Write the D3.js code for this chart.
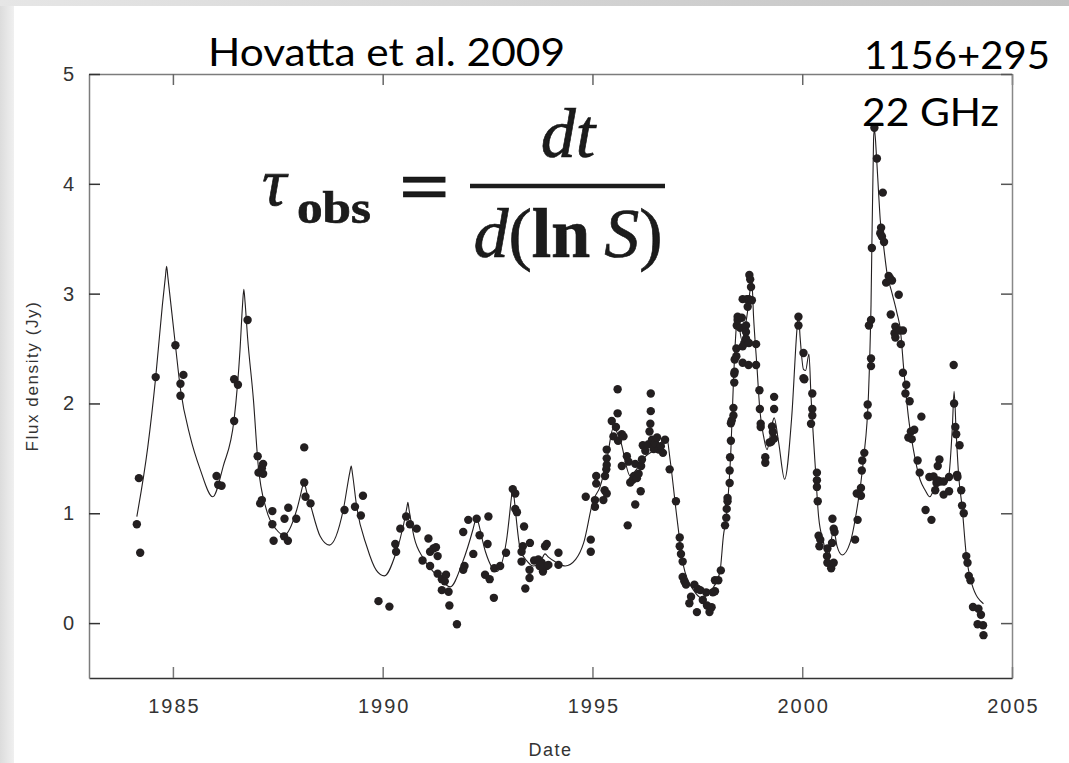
<!DOCTYPE html>
<html><head><meta charset="utf-8">
<script src="https://cdn.jsdelivr.net/npm/d3@7"></script>
<style>html,body{margin:0;padding:0;background:#fff;} svg{display:block;}</style>
</head><body>
<svg id="chart" width="1069" height="763"></svg>
<script>
// ---------- data ----------
const xTicks = [1985, 1990, 1995, 2000, 2005];
const yTicks = [0, 1, 2, 3, 4, 5];
const titleText = "Hovatta et al. 2009";
const sourceName = "1156+295";
const frequency = "22 GHz";
const xLabel = "Date";
const yLabel = "Flux density (Jy)";

// observed flux densities [year, Jy]
const observations = [
 [1984.14,0.90],[1984.22,0.64],[1984.19,1.32],[1984.59,2.24],[1985.06,2.53],[1985.18,2.18],[1985.18,2.07],[1985.25,2.26],
 [1986.04,1.34],[1986.08,1.26],[1986.16,1.25],[1986.46,2.22],[1986.55,2.17],[1986.46,1.84],[1986.78,2.76],
 [1987.02,1.52],[1987.04,1.37],[1987.12,1.41],[1987.15,1.45],[1987.15,1.36],[1987.12,1.12],[1987.08,1.09],
 [1987.37,1.02],[1987.37,0.90],[1987.40,0.75],[1987.65,0.79],[1987.66,0.95],[1987.74,0.75],[1987.75,1.05],[1987.94,0.95],
 [1988.13,1.60],[1988.13,1.28],[1988.16,1.15],[1988.28,1.09],
 [1989.09,1.03],[1989.34,1.06],[1989.48,0.98],[1989.53,1.16],[1989.90,0.20],[1990.16,0.15],
 [1990.30,0.72],[1990.32,0.65],[1990.42,0.86],[1990.56,0.97],[1990.65,0.90],[1990.81,0.86],[1990.95,0.57],[1991.09,0.77],
 [1991.13,0.65],[1991.13,0.52],[1991.21,0.68],[1991.27,0.69],[1991.31,0.61],[1991.31,0.45],[1991.41,0.40],[1991.51,0.44],
 [1991.41,0.30],[1991.57,0.285],[1991.59,0.16],[1991.77,-0.01],[1991.48,0.38],
 [1991.92,0.83],[1991.95,0.52],[1991.92,0.485],[1992.04,0.94],[1992.16,0.63],[1992.24,0.95],[1992.31,0.80],[1992.50,0.72],
 [1992.52,0.97],[1992.44,0.44],[1992.55,0.40],[1992.65,0.23],[1992.66,0.50],[1992.80,0.52],[1992.94,0.64],
 [1993.10,1.22],[1993.16,1.18],[1993.16,1.04],[1993.20,1.01],[1993.37,0.88],[1993.34,0.70],[1993.31,0.65],[1993.31,0.56],
 [1993.51,0.73],[1993.50,0.485],[1993.50,0.41],[1993.40,0.315],[1993.61,0.57],[1993.71,0.58],[1993.79,0.55],[1993.82,0.47],
 [1993.87,0.70],[1993.91,0.52],[1993.95,0.53],[1993.91,0.72],[1993.74,0.52],[1994.19,0.64],[1994.19,0.53],
 [1994.96,0.76],[1994.96,0.65],[1994.84,1.15],[1995.06,1.12],[1995.06,1.06],[1995.09,1.27],[1995.09,1.34],[1995.26,1.12],
 [1995.29,1.21],[1995.34,1.18],[1995.30,1.34],[1995.33,1.40],[1995.34,1.44],[1995.34,1.50],[1995.34,1.58],[1995.46,1.84],
 [1995.50,1.70],[1995.56,1.785],[1995.60,1.91],[1995.60,2.13],[1995.61,1.66],[1995.70,1.72],[1995.74,1.70],[1995.70,1.43],
 [1995.82,1.52],[1995.84,0.89],[1995.86,1.47],[1995.90,1.28],[1995.96,1.305],[1996.02,1.45],[1995.99,1.34],[1996.02,1.08],
 [1996.06,1.32],[1996.10,1.36],[1996.15,1.20],[1996.16,1.43],[1996.18,1.49],[1996.20,1.62],[1996.26,1.57],[1996.34,1.63],
 [1996.36,1.745],[1996.38,1.815],[1996.39,1.93],[1996.39,2.09],[1996.42,1.67],[1996.46,1.585],[1996.49,1.64],[1996.54,1.69],
 [1996.58,1.58],[1996.63,1.61],[1996.68,1.55],[1996.73,1.67],[1996.84,1.40],[1996.99,1.11],[1997.08,0.78],[1997.08,0.70],
 [1997.11,0.63],[1997.15,0.56],[1997.15,0.42],[1997.19,0.38],[1997.23,0.35],[1997.31,0.18],[1997.35,0.24],[1997.43,0.35],
 [1997.51,0.31],[1997.49,0.10],
 [1997.57,0.30],[1997.63,0.21],[1997.71,0.28],[1997.73,0.16],[1997.79,0.10],[1997.84,0.145],[1997.87,0.28],[1997.92,0.29],
 [1997.92,0.39],[1998.00,0.39],[1998.06,0.48],[1998.16,0.89],[1998.19,0.96],[1998.20,1.04],[1998.22,1.11],[1998.22,1.14],
 [1998.27,1.275],[1998.27,1.39],[1998.28,1.51],[1998.30,1.66],[1998.30,1.82],[1998.32,1.845],[1998.36,1.89],[1998.36,1.96],
 [1998.38,2.19],[1998.38,2.27],[1998.39,2.29],[1998.39,2.40],[1998.43,2.43],[1998.43,2.50],[1998.44,2.71],[1998.46,2.76],
 [1998.46,2.79],[1998.52,2.69],[1998.56,2.78],[1998.58,2.37],[1998.58,2.52],[1998.58,2.95],[1998.62,2.55],[1998.66,2.59],
 [1998.66,2.71],[1998.66,2.65],[1998.70,2.88],[1998.68,2.95],[1998.73,2.95],[1998.72,2.35],[1998.73,2.55],[1998.74,3.17],
 [1998.76,3.13],[1998.78,3.06],[1998.80,2.94],[1998.90,2.54],[1998.90,2.35],[1998.98,2.12],[1998.99,1.95],[1999.01,1.815],
 [1999.01,1.785],[1999.12,1.51],[1999.12,1.46],[1999.22,1.645],[1999.26,1.65],[1999.30,1.74],[1999.28,1.79],[1999.33,1.95],
 [1999.33,2.06],[1999.33,1.68],
 [1999.91,2.79],[1999.91,2.71],[2000.03,2.46],[2000.03,2.23],[2000.05,2.22],[2000.24,2.09],[2000.24,1.95],[2000.24,1.89],
 [2000.21,1.815],[2000.35,1.37],[2000.35,1.30],[2000.35,1.24],[2000.37,1.11],[2000.39,0.795],[2000.43,0.76],[2000.41,0.70],
 [2000.59,0.61],[2000.60,0.68],[2000.60,0.55],[2000.69,0.50],[2000.71,0.73],[2000.75,0.55],[2000.72,0.95],[2000.75,0.86],
 [2000.77,0.83],
 [2001.26,0.76],[2001.32,0.94],[2001.30,1.18],[2001.40,1.16],[2001.40,1.23],[2001.42,1.39],[2001.43,1.48],[2001.48,1.55],
 [2001.56,1.89],[2001.56,1.99],[2001.64,2.34],[2001.64,2.41],[2001.59,2.71],[2001.64,2.76],[2001.66,3.415],[2001.72,4.51],
 [2001.78,4.23],[2001.92,3.92],[2001.88,3.60],[2001.86,3.55],[2001.90,3.52],[2001.95,3.47],[2002.06,3.16],[2002.14,3.12],
 [2002.00,3.10],[2002.09,3.14],[2002.30,2.99],[2002.11,2.81],[2002.22,2.70],[2002.20,2.64],[2002.22,2.60],[2002.32,2.665],
 [2002.40,2.665],[2002.35,2.54],[2002.40,2.28],[2002.48,2.17],[2002.46,2.09],[2002.56,2.02],[2002.84,1.88],[2002.59,1.745],
 [2002.67,1.76],[2002.53,1.69],[2002.61,1.675],[2002.75,1.48],[2002.80,1.37],[2002.94,1.03],[2003.08,0.94],[2003.03,1.33],
 [2003.13,1.335],[2003.17,1.21],[2003.20,1.275],[2003.23,1.43],[2003.27,1.49],[2003.23,1.30],[2003.29,1.29],[2003.37,1.29],
 [2003.37,1.17],[2003.50,1.20],[2003.50,1.33],[2003.61,2.35],[2003.62,2.00],[2003.65,1.785],[2003.67,1.72],[2003.75,1.62],
 [2003.69,1.35],[2003.70,1.33],[2003.79,1.21],[2003.81,1.07],[2003.85,1.00],[2003.91,0.61],[2003.94,0.55],[2003.97,0.43],
 [2004.01,0.39],[2004.07,0.146],[2004.20,0.13],[2004.26,0.076],[2004.18,-0.01],[2004.31,-0.02],[2004.32,-0.11]
];

// fitted flare model curve [year, Jy]
const modelCurve = [
 [1984.14,0.97],[1984.40,1.60],[1984.59,2.24],[1984.75,2.90],[1984.82,3.15],[1984.85,3.25],[1984.88,3.15],[1985.06,2.53],
 [1985.18,2.13],[1985.41,1.70],[1985.65,1.40],[1985.95,1.15],[1986.20,1.43],[1986.46,1.86],[1986.60,2.49],[1986.66,2.90],
 [1986.69,3.04],[1986.72,2.92],[1986.78,2.60],[1986.92,2.03],[1987.03,1.45],[1987.23,1.03],[1987.47,0.85],[1987.65,0.80],
 [1987.95,1.03],[1988.10,1.26],[1988.13,1.305],[1988.16,1.24],[1988.27,1.09],[1988.51,0.79],[1988.73,0.71],[1989.06,1.03],
 [1989.22,1.38],[1989.25,1.43],[1989.28,1.36],[1989.38,1.06],[1989.62,0.70],[1989.85,0.48],[1990.04,0.43],[1990.30,0.62],
 [1990.50,0.90],[1990.58,1.06],[1990.60,1.10],[1990.63,1.03],[1990.75,0.78],[1990.97,0.59],[1991.30,0.43],[1991.61,0.33],
 [1991.90,0.55],[1992.15,0.85],[1992.22,0.95],[1992.24,0.97],[1992.27,0.93],[1992.45,0.65],[1992.72,0.47],[1992.95,0.75],
 [1993.07,1.15],[1993.10,1.25],[1993.13,1.15],[1993.28,0.67],[1993.45,0.56],[1993.59,0.52],[1993.75,0.55],[1993.87,0.63],
 [1993.95,0.60],[1994.15,0.55],[1994.35,0.52],[1994.60,0.58],[1994.79,0.73],[1995.02,1.12],[1995.18,1.24],[1995.34,1.48],
 [1995.50,1.78],[1995.66,1.67],[1995.90,1.34],[1996.05,1.40],[1996.27,1.52],[1996.50,1.58],[1996.77,1.69],[1996.85,1.49],
 [1997.01,0.97],[1997.17,0.52],[1997.41,0.30],[1997.60,0.23],[1997.89,0.33],[1998.04,0.47],[1998.12,0.79],[1998.20,1.00],
 [1998.30,1.58],[1998.36,2.19],[1998.43,2.70],[1998.46,2.77],[1998.56,2.58],[1998.68,2.79],[1998.78,3.08],[1998.80,3.10],
 [1998.84,2.79],[1998.92,2.34],[1998.99,1.94],[1999.08,1.70],[1999.16,1.58],[1999.30,1.84],[1999.33,1.87],[1999.44,1.64],
 [1999.58,1.31],[1999.75,1.88],[1999.88,2.70],[1999.91,2.81],[1999.95,2.60],[2000.03,2.31],[2000.08,2.30],[2000.16,2.45],
 [2000.21,2.06],[2000.31,1.43],[2000.39,0.97],[2000.51,0.73],[2000.61,0.59],[2000.75,0.85],[2000.83,0.70],[2000.95,0.62],
 [2001.14,0.73],[2001.30,1.03],[2001.46,1.49],[2001.58,2.09],[2001.64,2.90],[2001.70,4.40],[2001.72,4.50],[2001.77,4.25],
 [2001.82,3.92],[2001.86,3.67],[2001.94,3.43],[2002.02,3.19],[2002.14,3.005],[2002.26,2.82],[2002.34,2.67],[2002.42,2.31],
 [2002.53,1.88],[2002.65,1.58],[2002.81,1.305],[2002.93,1.21],[2003.04,1.15],[2003.21,1.29],[2003.30,1.32],[2003.40,1.26],
 [2003.49,1.33],[2003.58,1.80],[2003.62,2.11],[2003.67,1.73],[2003.73,1.335],[2003.81,1.06],[2003.91,0.62],[2004.04,0.36],
 [2004.32,0.176]
];

// ---------- drawing ----------
const W = 1069, H = 763;
const svg = d3.select("#chart");
const defs = svg.append("defs");
const gTop = defs.append("linearGradient").attr("id","gTop").attr("x1",0).attr("x2",1).attr("y1",0).attr("y2",0);
gTop.append("stop").attr("offset","0%").attr("stop-color","#e6e6e6");
gTop.append("stop").attr("offset","100%").attr("stop-color","#c2c2c2");
const gLeft = defs.append("linearGradient").attr("id","gLeft").attr("x1",0).attr("x2",1).attr("y1",0).attr("y2",0);
gLeft.append("stop").attr("offset","0%").attr("stop-color","#dcdcdc");
gLeft.append("stop").attr("offset","100%").attr("stop-color","#f0f0f0");
defs.append("filter").attr("id","soft").append("feGaussianBlur").attr("stdDeviation",0.6);

svg.append("rect").attr("width",W).attr("height",H).attr("fill","#fff");
svg.append("rect").attr("x",0).attr("y",0).attr("width",W).attr("height",6).attr("fill","url(#gTop)");
svg.append("rect").attr("x",0).attr("y",6).attr("width",14).attr("height",H-6).attr("fill","url(#gLeft)");

const L = 89, R = 1012, T = 74, B = 678;
const x = d3.scaleLinear().domain([1983, 2005]).range([L, R]);
const y = d3.scaleLinear().domain([-0.5, 5]).range([B, T]);

const tickFont = "'Liberation Sans', Arial, sans-serif";

function styleAxis(g, domainColor, tickColor) {
  g.attr("font-family", tickFont).attr("font-size", 20);
  g.select(".domain").attr("stroke", domainColor).attr("stroke-width", 1.5);
  g.selectAll(".tick line").attr("stroke", tickColor).attr("stroke-width", 1.5);
  g.selectAll(".tick text").attr("fill", "#333");
}

// top & right (no labels)
const gTopAx = svg.append("g").attr("transform", `translate(0,${T})`)
  .call(d3.axisTop(x).tickValues(xTicks).tickSizeInner(-11).tickSizeOuter(0).tickFormat(() => ""));
styleAxis(gTopAx, "#7c7c7c", "#666");
const gRightAx = svg.append("g").attr("transform", `translate(${R},0)`)
  .call(d3.axisRight(y).tickValues(yTicks).tickSizeInner(-11).tickSizeOuter(0).tickFormat(() => ""));
styleAxis(gRightAx, "#888", "#555");

// bottom & left
const gx = svg.append("g").attr("transform", `translate(0,${B})`)
  .call(d3.axisBottom(x).tickValues(xTicks).tickSizeInner(-11).tickSizeOuter(0).tickPadding(21).tickFormat(d3.format("d")));
styleAxis(gx, "#333", "#777");
gx.selectAll(".tick text").attr("letter-spacing", 2).attr("dx", 1);

const gy = svg.append("g").attr("transform", `translate(${L},0)`)
  .call(d3.axisLeft(y).tickValues(yTicks).tickSizeInner(-11).tickSizeOuter(0).tickPadding(15).tickFormat(d3.format("d")));
styleAxis(gy, "#7c7c7c", "#333");

// axis titles
svg.append("text").attr("x", (L + R) / 2).attr("y", 756).attr("text-anchor", "middle")
  .attr("font-family", tickFont).attr("font-size", 18).attr("letter-spacing", 1.5).attr("fill", "#333").text(xLabel);
svg.append("text").attr("transform", `translate(38,${(T + B) / 2}) rotate(-90)`).attr("text-anchor", "middle")
  .attr("font-family", tickFont).attr("font-size", 17).attr("letter-spacing", 1.6).attr("fill", "#333").text(yLabel);

// model curve
const line = d3.line().x(d => x(d[0])).y(d => y(d[1])).curve(d3.curveMonotoneX);
svg.append("path").datum(modelCurve).attr("d", line).attr("fill", "none")
  .attr("stroke", "#231f20").attr("stroke-width", 1.1);

// observations
svg.append("g").selectAll("circle").data(observations).join("circle")
  .attr("cx", d => x(d[0])).attr("cy", d => y(d[1])).attr("r", 4.2).attr("fill", "#231f20");

// slide annotations
const slideFont = "Lato, 'Open Sans', sans-serif";
svg.append("text").attr("x", 208).attr("y", 66).attr("font-family", slideFont).attr("font-size", 38)
  .attr("textLength", 357).attr("lengthAdjust", "spacingAndGlyphs").attr("fill", "#000").text(titleText);
svg.append("text").attr("x", 864).attr("y", 69).attr("font-family", slideFont).attr("font-size", 39)
  .attr("textLength", 186).attr("lengthAdjust", "spacingAndGlyphs").attr("fill", "#000").text(sourceName);
svg.append("text").attr("x", 862).attr("y", 126).attr("font-family", slideFont).attr("font-size", 39)
  .attr("textLength", 137).attr("lengthAdjust", "spacingAndGlyphs").attr("fill", "#000").text(frequency);

// formula
const serif = "'Liberation Serif', 'Times New Roman', serif";
const fm = svg.append("g").attr("font-family", serif).attr("fill", "#1a1a1a")
  .attr("stroke", "#1a1a1a").attr("stroke-width", 0.7).attr("filter", "url(#soft)");
fm.append("text").attr("x", 262).attr("y", 205).attr("font-size", 68).attr("font-style", "italic").text("τ");
fm.append("text").attr("x", 297).attr("y", 223).attr("font-size", 46).attr("font-weight", "bold")
  .attr("textLength", 74).attr("lengthAdjust", "spacingAndGlyphs").text("obs");
fm.append("text").attr("x", 399).attr("y", 212).attr("font-size", 74).attr("font-weight", "bold")
  .attr("textLength", 51).attr("lengthAdjust", "spacingAndGlyphs").text("=");
fm.append("line").attr("x1", 470).attr("x2", 665).attr("y1", 186).attr("y2", 186)
  .attr("stroke", "#1a1a1a").attr("stroke-width", 4.5);
fm.append("text").attr("x", 568).attr("y", 157).attr("text-anchor", "middle").attr("font-size", 70)
  .attr("font-style", "italic").text("dt");
const den = fm.append("text").attr("x", 568).attr("y", 257).attr("text-anchor", "middle").attr("font-size", 70);
den.append("tspan").attr("font-style", "italic").text("d");
den.append("tspan").text("(");
den.append("tspan").attr("font-weight", "bold").text("ln\u2009");
den.append("tspan").attr("font-style", "italic").text("S");
den.append("tspan").text(")");
</script>
</body></html>
